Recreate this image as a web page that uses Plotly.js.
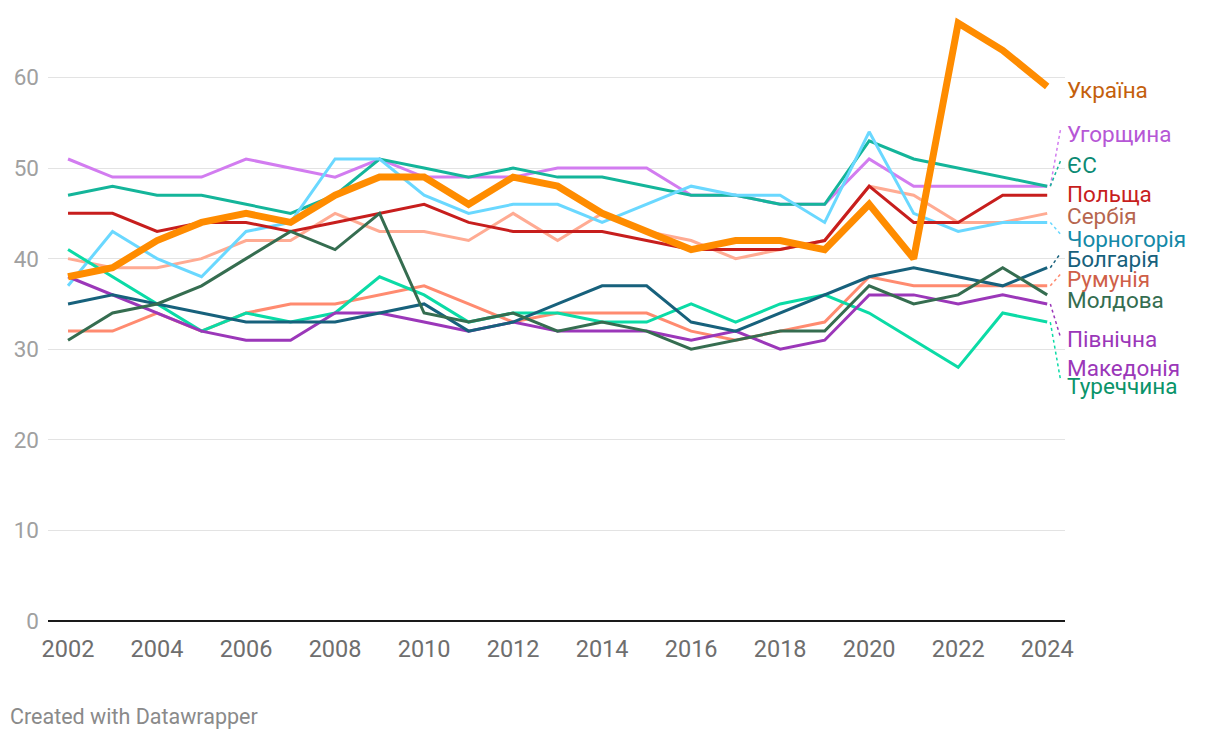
<!DOCTYPE html>
<html>
<head>
<meta charset="utf-8">
<script src="https://cdn.plot.ly/plotly-3.0.1.min.js"></script>
<style>
  html, body { margin: 0; padding: 0; background: #fff; }
  #chart { width: 1220px; height: 738px; }
</style>
</head>
<body>
<div id="chart"></div>
<script>
const years = [2002,2003,2004,2005,2006,2007,2008,2009,2010,2011,2012,2013,2014,2015,2016,2017,2018,2019,2020,2021,2022,2023,2024];

const hungary    = [51,49,49,49,51,50,49,51,49,49,49,50,50,50,47,47,46,46,51,48,48,48,48];
const eu         = [47,48,47,47,46,45,47,51,50,49,50,49,49,48,47,47,46,46,53,51,50,49,48];
const poland     = [45,45,43,44,44,43,44,45,46,44,43,43,43,42,41,41,41,42,48,44,44,47,47];
const serbia     = [40,39,39,40,42,42,45,43,43,42,45,42,45,43,42,40,41,42,48,47,44,44,45];
const montenegro = [37,43,40,38,43,44,51,51,47,45,46,46,44,46,48,47,47,44,54,45,43,44,44];
const bulgaria   = [35,36,35,34,33,33,33,34,35,32,33,35,37,37,33,32,34,36,38,39,38,37,39];
const romania    = [32,32,34,32,34,35,35,36,37,35,33,34,34,34,32,31,32,33,38,37,37,37,37];
const moldova    = [31,34,35,37,40,43,41,45,34,33,34,32,33,32,30,31,32,32,37,35,36,39,36];
const macedonia  = [38,36,34,32,31,31,34,34,33,32,33,32,32,32,31,32,30,31,36,36,35,36,35];
const turkey     = [41,38,35,32,34,33,34,38,36,33,34,34,33,33,35,33,35,36,34,31,28,34,33];
const ukraine    = [38,39,42,44,45,44,47,49,49,46,49,48,45,43,41,42,42,41,46,40,66,63,59];

// series: name, values, line colour, label colour, line width
const series = [
  {name: "Угорщина",   y: hungary,    color: "#d27cf0", label: "#b657d6", w: 3},
  {name: "ЄС",         y: eu,         color: "#14b59a", label: "#0b8a73", w: 3},
  {name: "Сербія",     y: serbia,     color: "#ffab93", label: "#b7664f", w: 3},
  {name: "Чорногорія", y: montenegro, color: "#6ad8ff", label: "#1489a7", w: 3},
  {name: "Польща",     y: poland,     color: "#c71e1d", label: "#c71e1d", w: 3},
  {name: "Румунія",    y: romania,    color: "#ff8b70", label: "#cf5f48", w: 3},
  {name: "Туреччина",  y: turkey,     color: "#0bdba6", label: "#0a946a", w: 3},
  {name: "Північна Македонія", y: macedonia, color: "#9b37b9", label: "#9b37b9", w: 3},
  {name: "Болгарія",   y: bulgaria,   color: "#17617c", label: "#17617c", w: 3},
  {name: "Молдова",    y: moldova,    color: "#356d50", label: "#356d50", w: 3},
  {name: "Україна",    y: ukraine,    color: "#ff8c00", label: "#c4600c", w: 7}
];

// label placement (y in data units after overlap resolution) and connector end
const labelPlacement = [
  {text: "Україна",    key: "Україна",    y: 58.6, connector: false},
  {text: "Угорщина",   key: "Угорщина",   y: 53.8, connector: true,  cy: 54.3},
  {text: "ЄС",         key: "ЄС",         y: 50.3, connector: true,  cy: 50.8},
  {text: "Польща",     key: "Польща",     y: 47.1, connector: false},
  {text: "Сербія",     key: "Сербія",     y: 44.7, connector: false},
  {text: "Чорногорія", key: "Чорногорія", y: 42.2, connector: true,  cy: 42.7},
  {text: "Болгарія",   key: "Болгарія",   y: 40.0, connector: true,  cy: 40.6},
  {text: "Румунія",    key: "Румунія",    y: 37.8, connector: true,  cy: 38.3},
  {text: "Молдова",    key: "Молдова",    y: 35.4, connector: false},
  {text: "Північна",   key: "Північна Македонія", y: 31.1, connector: true, cy: 31.3},
  {text: "Македонія",  key: "Північна Македонія", y: 27.9, connector: false},
  {text: "Туреччина",  key: "Туреччина",  y: 25.9, connector: true,  cy: 26.6}
];

const FONT = "Roboto, 'Noto Sans', sans-serif";
const lastYear = years[years.length - 1];
const traces = [];

labelPlacement.forEach(l => {
  if (!l.connector) return;
  const s = series.find(s => s.name === l.key);
  traces.push({
    x: [lastYear + 0.07, lastYear + 0.3],
    y: [s.y[s.y.length - 1], l.cy],
    mode: "lines",
    line: {color: s.color, width: 1.5, dash: "dot"},
    hoverinfo: "skip",
    showlegend: false
  });
});

series.forEach(s => {
  traces.push({
    x: years,
    y: s.y,
    name: s.name,
    mode: "lines",
    line: {color: s.color, width: s.w, shape: "linear"},
    showlegend: false
  });
});

const annotations = labelPlacement.map(l => {
  const s = series.find(s => s.name === l.key);
  return {
    x: 1, y: l.y, xref: "paper", yref: "y",
    xshift: 0,
    text: l.text, showarrow: false, xanchor: "left", yanchor: "middle",
    font: {family: FONT, size: 22.5, color: s.label}
  };
});

annotations.push({
  x: 0, y: 0, xref: "paper", yref: "paper",
  xanchor: "left", yanchor: "top",
  text: "Created with Datawrapper", showarrow: false,
  xshift: -40, yshift: -81,
  font: {family: FONT, size: 21.5, color: "#8a8a8a"}
});

const layout = {
  width: 1220, height: 738,
  margin: {l: 48, r: 155, t: 5, b: 117},
  paper_bgcolor: "#fff", plot_bgcolor: "#fff",
  showlegend: false,
  xaxis: {
    range: [2001.55, 2024.4],
    tickvals: [2002,2004,2006,2008,2010,2012,2014,2016,2018,2020,2022,2024],
    ticktext: ["2002","2004","2006","2008","2010","2012","2014","2016","2018","2020","2022","2024"],
    showgrid: false, zeroline: false, showline: false,
    ticks: "", ticklabelstandoff: 11,
    tickfont: {family: FONT, size: 23.5, color: "#6e6e6e"}
  },
  yaxis: {
    range: [0, 68],
    tickvals: [0,10,20,30,40,50,60],
    showgrid: true, gridcolor: "#e3e3e3", gridwidth: 1,
    zeroline: true, zerolinecolor: "#1a1a1a", zerolinewidth: 2,
    showline: false, ticks: "", ticklabelstandoff: 8,
    tickfont: {family: FONT, size: 22.5, color: "#a0a0a0"}
  },
  annotations: annotations
};

Plotly.newPlot("chart", traces, layout, {displayModeBar: false, staticPlot: true});
</script>
</body>
</html>
